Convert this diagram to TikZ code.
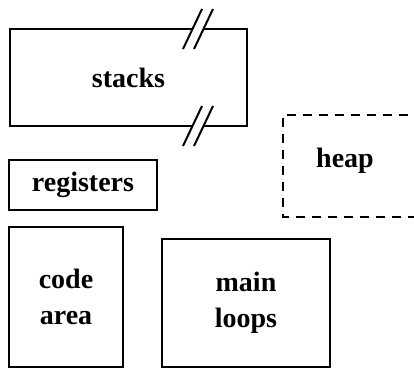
\documentclass[tikz,border=0pt]{standalone}
\usepackage{fontspec}
\setmainfont{Liberation Serif}
\usetikzlibrary{positioning}

\begin{document}
\begin{tikzpicture}
[x=1pt,y=-1pt,
 area/.style={draw,rectangle,line width=2pt,inner sep=0pt,align=center,
   font=\fontsize{28}{36}\selectfont\bfseries},
 lbl/.style={inner sep=0pt,font=\fontsize{28}{36}\selectfont\bfseries},
 dashbox/.style={line width=2pt,dash pattern=on 9pt off 7pt},
 brk/.style={line width=2pt}]
\useasboundingbox (0,0) rectangle (414,369);
\node[area,minimum width=237,minimum height=97] (stacks) at (128.5,77.5) {stacks};
\node[area,minimum width=148,minimum height=50] (registers) at (83,185) {registers};
\node[area,minimum width=114,minimum height=140] (codearea) at (66,297) {code\\area};
\node[area,minimum width=168,minimum height=128] (mainloops) at (246,303) {main\\loops};
\node[lbl] (heap) at (345,161) {heap};
% open on the right
\draw[dashbox] (440,115) -| (283,217) -- (440,217);
% breaks in the stack box
\foreach \y in {29,126} {
  \fill[white] (183,{\y+20}) -- (202,{\y-20}) -- (213,{\y-20}) -- (194,{\y+20}) -- cycle;
  \draw[brk] (183,{\y+20}) -- (202,{\y-20});
  \draw[brk] (194,{\y+20}) -- (213,{\y-20});
}
\end{tikzpicture}
\end{document}
